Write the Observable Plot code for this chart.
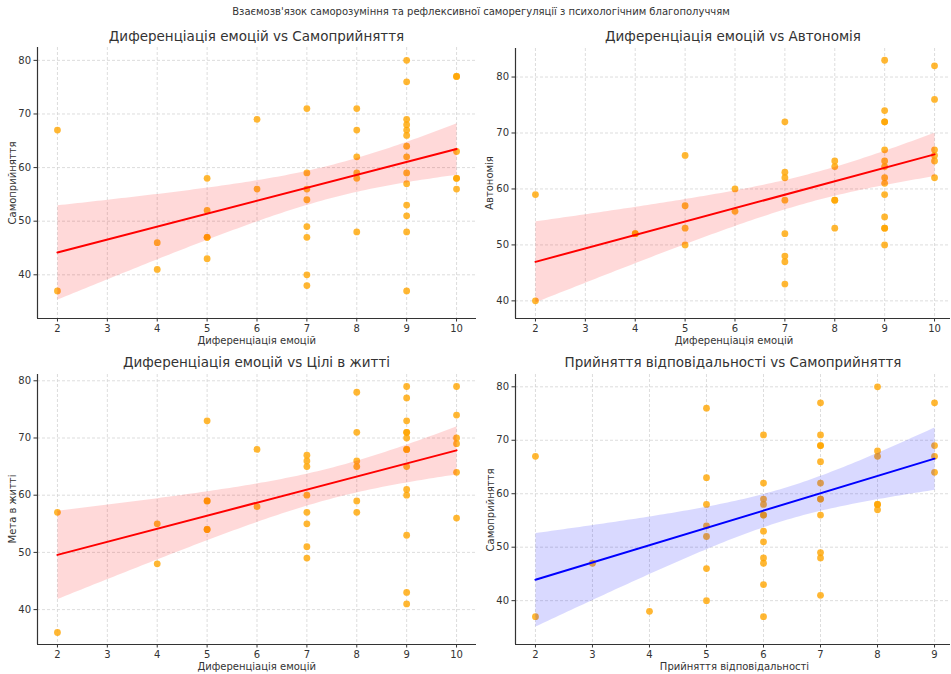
<!DOCTYPE html>
<html><head><meta charset="utf-8">
<script src="https://cdn.jsdelivr.net/npm/d3@7"></script>
<script src="https://cdn.jsdelivr.net/npm/@observablehq/plot@0.6"></script>
<style>
body{margin:0;background:#fff;font-family:"DejaVu Sans",sans-serif;color:#333}
#root{position:relative;width:951px;height:674px;overflow:hidden;background:#fff}
.t{position:absolute;white-space:nowrap;transform:translate(-50%,-50%);line-height:1}
.sup{font-size:10px}
.ttl{font-size:13.5px}
.lab{font-size:10px}
.ylab{transform:translate(-50%,-50%) rotate(-90deg)}
.panel{position:absolute}
</style></head><body><div id="root"></div>
<script>
const suptitle = "Взаємозв'язок саморозуміння та рефлексивної саморегуляції з психологічним благополуччям";
const titles = ["Диференціація емоцій vs Самоприйняття", "Диференціація емоцій vs Автономія", "Диференціація емоцій vs Цілі в житті", "Прийняття відповідальності vs Самоприйняття"];
const xLabels = ["Диференціація емоцій", "Диференціація емоцій", "Диференціація емоцій", "Прийняття відповідальності"];
const yLabels = ["Самоприйняття", "Автономія", "Мета в житті", "Самоприйняття"];

const emoTicks = [2, 3, 4, 5, 6, 7, 8, 9, 10];
const respTicks = [2, 3, 4, 5, 6, 7, 8, 9];
const yTicks1 = [40, 50, 60, 70, 80];
const yTicks2 = [40, 50, 60, 70, 80];

const p1X = [2,2, 4,4, 5,5,5,5,5, 6,6, 7,7,7,7,7,7,7,7, 8,8,8,8,8,8, 9,9,9,9,9,9,9,9,9,9,9,9,9,9, 10,10,10,10,10,10];
const p1Y = [67,37, 46,41, 58,52,47,47,43, 69,56, 71,59,56,54,49,47,40,38, 71,67,62,59,58,48, 80,76,69,68,67,66,64,62,59,57,53,51,48,37, 77,77,63,58,58,56];

const p2X = [2,2, 4,4, 5,5,5,5, 6,6, 7,7,7,7,7,7,7,7, 8,8,8,8,8, 9,9,9,9,9,9,9,9,9,9,9,9,9,9, 10,10,10,10,10,10];
const p2Y = [59,40, 52,52, 66,57,53,50, 60,56, 72,63,62,58,52,48,47,43, 65,64,58,58,53, 83,74,72,72,67,65,64,62,61,59,55,53,53,50, 82,76,67,66,65,62];

const p3X = [2,2, 4,4, 5,5,5,5,5, 6,6, 7,7,7,7,7,7,7,7, 8,8,8,8,8,8, 9,9,9,9,9,9,9,9,9,9,9,9,9,9, 10,10,10,10,10,10];
const p3Y = [57,36, 55,48, 73,59,59,54,54, 68,58, 67,66,65,60,57,55,51,49, 78,71,66,65,59,57, 79,77,73,71,71,70,68,68,65,61,60,53,43,41, 79,74,70,69,64,56];

const p4X = [2,2, 3, 4, 5,5,5,5,5,5,5, 6,6,6,6,6,6,6,6,6,6,6,6, 7,7,7,7,7,7,7,7,7,7,7,7, 8,8,8,8,8,8, 9,9,9,9];
const p4Y = [67,37, 47, 38, 76,63,58,54,52,46,40, 71,62,59,58,56,56,53,51,48,47,43,37, 77,71,69,69,66,62,59,59,56,49,48,41, 80,68,67,58,58,57, 77,69,67,64];

const root = document.getElementById("root");
function addText(txt, cls, x, y) {
  const d = document.createElement("div");
  d.className = "t " + cls;
  d.textContent = txt;
  d.style.left = x + "px";
  d.style.top = y + "px";
  root.appendChild(d);
}

function panel(cfg) {
  const data = cfg.xs.map((x, i) => ({x, y: cfg.ys[i]}));
  const grid = {stroke: "#d4d4d4", strokeOpacity: 1, strokeWidth: 0.8, strokeDasharray: "3,2"};
  const chart = Plot.plot({
    width: cfg.width, height: cfg.height,
    marginLeft: cfg.ml, marginRight: cfg.mr, marginTop: cfg.mt, marginBottom: cfg.mb,
    style: {fontFamily: "DejaVu Sans", fontSize: "10px", color: "#333", background: "transparent", overflow: "visible"},
    x: {domain: cfg.xDomain, label: null},
    y: {domain: cfg.yDomain, label: null},
    marks: [
      Plot.gridX(cfg.xTicks, grid),
      Plot.gridY(cfg.yTicks, grid),
      Plot.dot(data, {x: "x", y: "y", r: 3.4, fill: "orange", fillOpacity: 0.8, stroke: null}),
      Plot.linearRegressionY(data, {x: "x", y: "y", stroke: cfg.color, strokeWidth: 2, fill: cfg.color, fillOpacity: 0.15, ci: 0.95}),
      Plot.ruleX([cfg.xDomain[0]], {stroke: "#333", strokeWidth: 1.2}),
      Plot.ruleY([cfg.yDomain[0]], {stroke: "#333", strokeWidth: 1.2}),
      Plot.axisX(cfg.xTicks, {tickSize: 3.5, tickPadding: 3, fontSize: 10, label: null}),
      Plot.axisY(cfg.yTicks, {tickSize: 3.5, tickPadding: 3, fontSize: 10, label: null})
    ]
  });
  const wrap = document.createElement("div");
  wrap.className = "panel";
  wrap.style.left = cfg.left + "px";
  wrap.style.top = cfg.top + "px";
  wrap.appendChild(chart);
  root.appendChild(wrap);
}

addText(suptitle, "sup", 481, 12);

panel({xs: p1X, ys: p1Y, xDomain: [1.6, 10.4], yDomain: [31.85, 82.4], xTicks: emoTicks, yTicks: yTicks1, color: "red",
  left: 0, top: 40, width: 480, height: 310, ml: 37, mr: 4, mt: 7, mb: 32});
panel({xs: p2X, ys: p2Y, xDomain: [1.6, 10.32], yDomain: [36.85, 85.1], xTicks: emoTicks, yTicks: yTicks1, color: "red",
  left: 480, top: 40, width: 471, height: 310, ml: 35, mr: 1, mt: 8, mb: 32});
panel({xs: p3X, ys: p3Y, xDomain: [1.6, 10.4], yDomain: [33.9, 81.1], xTicks: emoTicks, yTicks: yTicks2, color: "red",
  left: 0, top: 367, width: 480, height: 307, ml: 37, mr: 4, mt: 7, mb: 30});
panel({xs: p4X, ys: p4Y, xDomain: [1.65, 9.28], yDomain: [31.8, 82.3], xTicks: respTicks, yTicks: yTicks2, color: "blue",
  left: 480, top: 367, width: 471, height: 307, ml: 35, mr: 1, mt: 7, mb: 30});

addText(titles[0], "ttl", 256.5, 37);
addText(titles[1], "ttl", 733, 37);
addText(titles[2], "ttl", 256.5, 363);
addText(titles[3], "ttl", 733, 363);

addText(xLabels[0], "lab", 256.7, 341);
addText(xLabels[1], "lab", 734, 341);
addText(xLabels[2], "lab", 256.7, 667);
addText(xLabels[3], "lab", 734.5, 667);

addText(yLabels[0], "lab ylab", 12.5, 183);
addText(yLabels[1], "lab ylab", 490, 183);
addText(yLabels[2], "lab ylab", 12.5, 509);
addText(yLabels[3], "lab ylab", 490.5, 510);
</script></body></html>
